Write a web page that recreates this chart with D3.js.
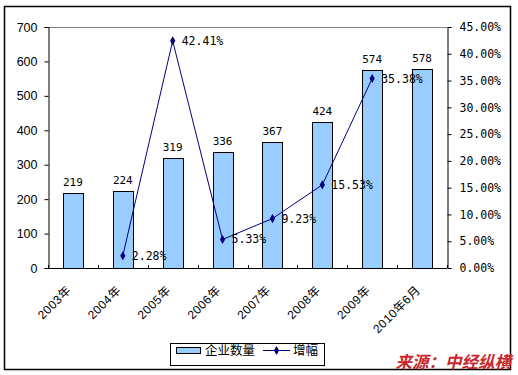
<!DOCTYPE html>
<html>
<head>
<meta charset="utf-8">
<script src="https://cdn.jsdelivr.net/npm/d3@7"></script>
<style>
  body { margin: 0; background: #fff; }
  svg { display: block; }
</style>
</head>
<body>
<div id="chart"></div>
<script>
const years = ["2003年", "2004年", "2005年", "2006年", "2007年", "2008年", "2009年", "2010年6月"];
const counts = [219, 224, 319, 336, 367, 424, 574, 578];
const growth = [null, 2.28, 42.41, 5.33, 9.23, 15.53, 35.38, null];
const leftTicks = [0, 100, 200, 300, 400, 500, 600, 700];
const rightTicks = [0, 5, 10, 15, 20, 25, 30, 35, 40, 45];

const W = 518, H = 375;
const plot = { left: 48, right: 447, top: 27, bottom: 268 };

const svg = d3.select("#chart").append("svg")
    .attr("width", W)
    .attr("height", H);

svg.append("rect")
    .attr("x", 4.5).attr("y", 6.5)
    .attr("width", 506).attr("height", 363)
    .attr("fill", "#fff")
    .attr("stroke", "#000")
    .attr("stroke-width", 1.5);

const x = d3.scaleBand()
    .domain(years)
    .range([plot.left, plot.right])
    .paddingInner(0.6)
    .paddingOuter(0.3);

const yLeft = d3.scaleLinear().domain([0, 700]).range([plot.bottom, plot.top]);
const yRight = d3.scaleLinear().domain([0, 45]).range([plot.bottom, plot.top]);

// top border of plot area
svg.append("line")
    .attr("x1", plot.left).attr("x2", plot.right)
    .attr("y1", plot.top + 0.5).attr("y2", plot.top + 0.5)
    .attr("stroke", "#808080");

// bars
svg.selectAll("rect.bar")
    .data(counts)
    .join("rect")
    .attr("class", "bar")
    .attr("x", (d, i) => Math.round(x(years[i])) + 0.5)
    .attr("y", d => Math.round(yLeft(d)) + 0.5)
    .attr("width", Math.round(x.bandwidth()))
    .attr("height", d => Math.round(yLeft(0)) - Math.round(yLeft(d)))
    .attr("fill", "#99ccff")
    .attr("stroke", "#000")
    .attr("stroke-width", 1);

svg.selectAll("text.bar-label")
    .data(counts)
    .join("text")
    .attr("class", "bar-label")
    .attr("x", (d, i) => x(years[i]) + x.bandwidth() / 2)
    .attr("y", d => yLeft(d) - 7)
    .attr("text-anchor", "middle")
    .style("font", "11px 'DejaVu Sans Mono', monospace")
    .attr("fill", "#000")
    .text(d => d);

// left axis
const leftAxis = d3.axisLeft(yLeft).tickValues(leftTicks).tickSize(4).tickPadding(7);
const gL = svg.append("g")
    .attr("transform", `translate(${plot.left + 0.5},0)`)
    .call(leftAxis);
gL.selectAll("text").style("font", "12.5px 'Liberation Sans', Arial, sans-serif").attr("fill", "#000");
gL.selectAll("line, path").attr("stroke", "#000");

// right axis
const rightAxis = d3.axisRight(yRight).tickValues(rightTicks).tickSize(4).tickPadding(8)
    .tickFormat(d => d.toFixed(2) + "%");
const gR = svg.append("g")
    .attr("transform", `translate(${plot.right + 0.5},0)`)
    .call(rightAxis);
gR.selectAll("text").style("font", "11.5px 'DejaVu Sans Mono', monospace").attr("fill", "#000");
gR.selectAll("line, path").attr("stroke", "#000");

// bottom axis
svg.append("line")
    .attr("x1", plot.left).attr("x2", plot.right)
    .attr("y1", plot.bottom + 0.5).attr("y2", plot.bottom + 0.5)
    .attr("stroke", "#000");
const bounds = d3.range(years.length + 1).map(i => plot.left + i * x.step());
svg.selectAll("line.xtick")
    .data(bounds)
    .join("line")
    .attr("class", "xtick")
    .attr("x1", d => Math.round(d) + 0.5).attr("x2", d => Math.round(d) + 0.5)
    .attr("y1", plot.bottom).attr("y2", plot.bottom - 3)
    .attr("stroke", "#000");

svg.selectAll("text.xlab")
    .data(years)
    .join("text")
    .attr("class", "xlab")
    .attr("transform", d => `translate(${x(d) + x.bandwidth() / 2 - 4},${plot.bottom + 20}) rotate(-45)`)
    .attr("text-anchor", "end")
    .attr("dy", "0.35em")
    .style("font", "12px 'Liberation Sans', 'Noto Sans CJK SC', sans-serif")
    .style("letter-spacing", "0.5px")
    .attr("fill", "#000")
    .text(d => d);

// growth line
const pts = growth.map((g, i) => ({ g, year: years[i] })).filter(d => d.g !== null);
const line = d3.line()
    .x(d => x(d.year) + x.bandwidth() / 2)
    .y(d => yRight(d.g));

svg.append("path")
    .datum(pts)
    .attr("d", line)
    .attr("fill", "none")
    .attr("stroke", "#000080")
    .attr("stroke-width", 1);

svg.selectAll("path.marker")
    .data(pts)
    .join("path")
    .attr("class", "marker")
    .attr("d", d3.symbol(d3.symbolDiamond, 24))
    .attr("transform", d => `translate(${x(d.year) + x.bandwidth() / 2},${yRight(d.g)})`)
    .attr("fill", "#000080");

svg.selectAll("text.line-label")
    .data(pts)
    .join("text")
    .attr("class", "line-label")
    .attr("x", d => x(d.year) + x.bandwidth() / 2 + 9)
    .attr("y", d => yRight(d.g))
    .attr("dy", "0.35em")
    .style("font", "11.5px 'DejaVu Sans Mono', monospace")
    .attr("fill", "#000")
    .text(d => d.g.toFixed(2) + "%");

// legend
const lg = svg.append("g");
lg.append("rect")
    .attr("x", 170.5).attr("y", 343.5)
    .attr("width", 154).attr("height", 22)
    .attr("fill", "#fff").attr("stroke", "#000");
lg.append("rect")
    .attr("x", 176.5).attr("y", 347.5)
    .attr("width", 24).attr("height", 6)
    .attr("fill", "#99ccff").attr("stroke", "#000");
lg.append("text")
    .attr("x", 205).attr("y", 351)
    .attr("dy", "0.35em")
    .style("font", "12.5px 'Noto Sans CJK SC', sans-serif")
    .text("企业数量");
lg.append("line")
    .attr("x1", 263).attr("x2", 290)
    .attr("y1", 350.5).attr("y2", 350.5)
    .attr("stroke", "#000080");
lg.append("path")
    .attr("d", d3.symbol(d3.symbolDiamond, 24))
    .attr("transform", "translate(276.5,350.5)")
    .attr("fill", "#000080");
lg.append("text")
    .attr("x", 293).attr("y", 351)
    .attr("dy", "0.35em")
    .style("font", "12.5px 'Noto Sans CJK SC', sans-serif")
    .text("增幅");

// source note
svg.append("text")
    .attr("x", 511).attr("y", 368)
    .attr("text-anchor", "end")
    .style("font", "italic bold 16.5px 'Noto Sans CJK SC', sans-serif")
    .attr("fill", "#c8282d")
    .text("来源：中经纵横");
</script>
</body>
</html>
